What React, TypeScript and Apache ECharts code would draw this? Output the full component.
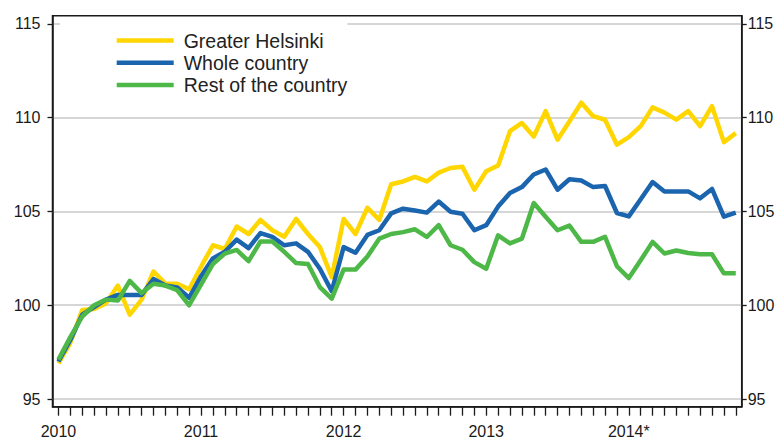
import React, { useEffect, useRef } from 'react';
import * as echarts from 'echarts';

const yearLabels = ['2010', '2011', '2012', '2013', '2014*'];
const firstYear = 2010;
const monthCount = 58;
const categories: string[] = [];
for (let i = 0; i < monthCount; i++) {
  const y = firstYear + Math.floor(i / 12);
  const m = (i % 12) + 1;
  categories.push(`${y}M${String(m).padStart(2, '0')}`);
}

const greaterHelsinki = [
  96.9, 98.0, 99.75, 99.8, 100.1, 101.05, 99.5, 100.3, 101.8, 101.15, 101.15, 100.85,
  102.05, 103.2, 103.0, 104.2, 103.8, 104.55, 104.0, 103.65, 104.6, 103.8, 103.1, 101.5,
  104.6, 103.8, 105.2, 104.55, 106.45, 106.6, 106.84, 106.6, 107.07, 107.32, 107.38, 106.16,
  107.15, 107.45, 109.28, 109.72, 109.0, 110.35, 108.83, 109.8, 110.8, 110.08, 109.89, 108.56,
  108.96, 109.55, 110.55, 110.27, 109.9, 110.35, 109.55, 110.62, 108.7, 109.18,
];

const wholeCountry = [
  97.0, 98.15, 99.5, 99.9, 100.3, 100.55, 100.55, 100.55, 101.4, 101.05, 100.95, 100.4,
  101.55, 102.5, 102.85, 103.5, 103.05, 103.85, 103.65, 103.2, 103.3, 102.85, 101.95, 100.75,
  103.1, 102.8, 103.75, 104.0, 104.9, 105.15, 105.05, 104.94, 105.53, 104.99, 104.88, 104.0,
  104.27, 105.26, 105.98, 106.3, 106.97, 107.24, 106.16, 106.72, 106.65, 106.3, 106.36, 104.92,
  104.74, 105.65, 106.57, 106.07, 106.07, 106.07, 105.7, 106.2, 104.72, 104.94,
];

const restOfCountry = [
  97.1, 98.3, 99.4, 100.0, 100.3, 100.25, 101.3, 100.65, 101.15, 101.05, 100.8, 100.0,
  101.1, 102.2, 102.75, 102.95, 102.35, 103.4, 103.4, 102.85, 102.25, 102.2, 100.97, 100.35,
  101.9, 101.9, 102.6, 103.55, 103.8, 103.9, 104.05, 103.64, 104.27, 103.2, 102.96, 102.3,
  101.95, 103.73, 103.3, 103.55, 105.45, 104.72, 104.0, 104.25, 103.38, 103.38, 103.65, 102.08,
  101.45, 102.4, 103.38, 102.76, 102.92, 102.79, 102.72, 102.72, 101.7, 101.7,
];

const yTicks = [95, 100, 105, 110, 115];
const seriesNames = ['Greater Helsinki', 'Whole country', 'Rest of the country'];
const seriesColors = ['#FFD600', '#1B64AE', '#4DB848'];

const FONT = '"Liberation Sans", Arial, sans-serif';

export default function App() {
  const ref = useRef<HTMLDivElement>(null);

  useEffect(() => {
    if (!ref.current) return;
    const chart = echarts.init(ref.current, undefined, { renderer: 'svg' });
    const dataSets = [greaterHelsinki, wholeCountry, restOfCountry];

    const yAxisBase = (position: 'left' | 'right', margin: number, split: boolean) => ({
      type: 'value',
      position,
      min: 94.59,
      max: 115.44,
      axisLine: { show: true, lineStyle: { color: '#1a1a1a', width: 1.5 } },
      axisTick: {
        show: true,
        length: 5,
        customValues: yTicks,
        lineStyle: { color: '#1a1a1a', width: 1.3 },
      },
      axisLabel: {
        customValues: yTicks,
        margin,
        fontSize: 16,
        color: '#1a1a1a',
        fontFamily: FONT,
      },
      splitLine: split
        ? { show: true, lineStyle: { color: '#c8c8c8', width: 1.5 } }
        : { show: false },
    });

    chart.setOption({
      animation: false,
      backgroundColor: '#ffffff',
      grid: {
        left: 52.5,
        right: 40.3,
        top: 15.7,
        bottom: 34.3,
        show: true,
        borderColor: '#1a1a1a',
        borderWidth: 1.5,
        backgroundColor: 'transparent',
      },
      legend: {
        orient: 'vertical',
        left: 60,
        top: 18.5,
        data: seriesNames,
        icon: 'rect',
        itemWidth: 57,
        itemHeight: 4.5,
        itemGap: 2.3,
        padding: [12, 0, 8, 56.7],
        backgroundColor: '#ffffff',
        selectedMode: false,
        textStyle: {
          fontSize: 19.5,
          lineHeight: 20,
          color: '#222222',
          fontFamily: FONT,
          padding: [0, 0, 0, 5],
        },
      },
      xAxis: {
        type: 'category',
        data: categories,
        boundaryGap: true,
        axisLine: { show: true, lineStyle: { color: '#1a1a1a', width: 1.5 } },
        axisTick: {
          show: true,
          alignWithLabel: true,
          interval: 0,
          length: 9,
          lineStyle: { color: '#1a1a1a', width: 1.3 },
        },
        axisLabel: {
          interval: (idx: number) => idx % 12 === 0,
          formatter: (_v: string, idx: number) => yearLabels[Math.floor(idx / 12)] ?? '',
          margin: 17,
          fontSize: 16,
          color: '#1a1a1a',
          fontFamily: FONT,
        },
        splitLine: { show: false },
      },
      yAxis: [yAxisBase('left', 12, true), yAxisBase('right', 6, false)],
      series: dataSets.map((d, i) => ({
        name: seriesNames[i],
        type: 'line',
        data: d,
        yAxisIndex: 0,
        showSymbol: false,
        symbol: 'none',
        color: seriesColors[i],
        itemStyle: { color: seriesColors[i] },
        lineStyle: { color: seriesColors[i], width: 4.5, join: 'round' },
        emphasis: { disabled: true },
      })),
    });

    return () => chart.dispose();
  }, []);

  return (
    <div
      ref={ref}
      style={{ position: 'absolute', left: 0, top: 0, width: 782, height: 441 }}
    />
  );
}
